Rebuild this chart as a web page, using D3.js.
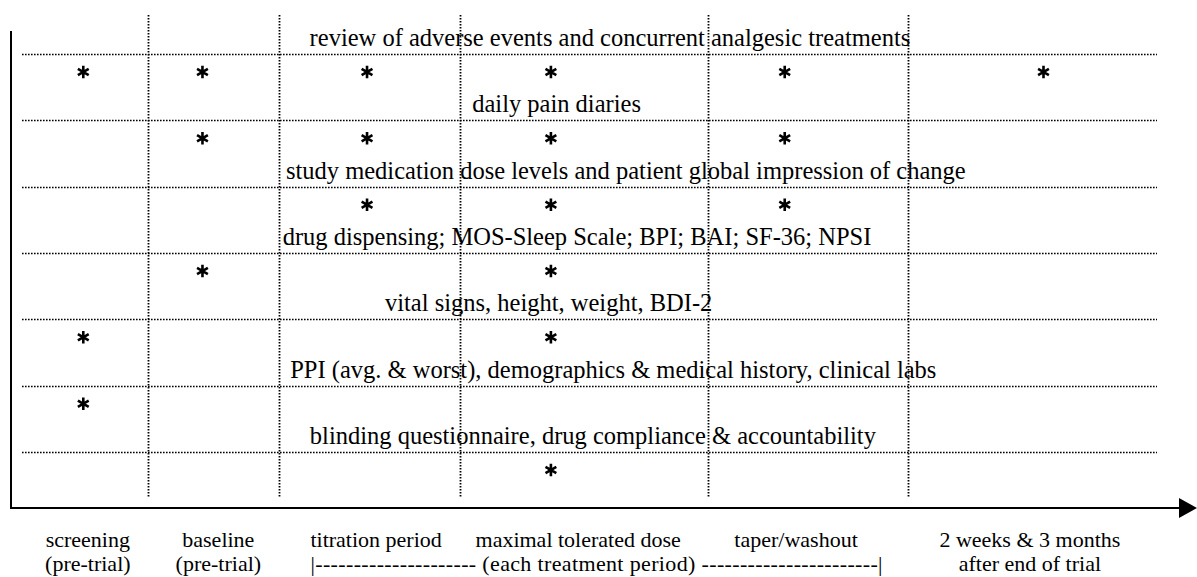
<!DOCTYPE html>
<html>
<head>
<meta charset="utf-8">
<script src="https://cdn.jsdelivr.net/npm/d3@7"></script>
<style>
  body { margin: 0; background: #fff; }
  svg text { font-family: 'Liberation Serif', 'Times New Roman', serif; fill: #000; }
</style>
</head>
<body>
<div id="chart"></div>
<script>
// assessments, top to bottom
const items = [
  'review of adverse events and concurrent analgesic treatments',
  'daily pain diaries',
  'study medication dose levels and patient global impression of change',
  'drug dispensing; MOS-Sleep Scale; BPI; BAI; SF-36; NPSI',
  'vital signs, height, weight, BDI-2',
  'PPI (avg. & worst), demographics & medical history, clinical labs',
  'blinding questionnaire, drug compliance & accountability'
]

// trial phases, left to right
const phases = ['screening', 'baseline', 'titration', 'maximal', 'taper', 'followup']
const phaseLabels = [
  ['screening', '(pre-trial)'],
  ['baseline', '(pre-trial)'],
  ['titration period', ''],
  ['maximal tolerated dose', ''],
  ['taper/washout', ''],
  ['2 weeks & 3 months', 'after end of trial']
]
const treatmentLabel = '|--------------------- (each treatment period) -----------------------|'

// which phases each assessment is done in (one list per item)
const schedule = [
  ['screening', 'baseline', 'titration', 'maximal', 'taper', 'followup'],
  ['baseline', 'titration', 'maximal', 'taper'],
  ['titration', 'maximal', 'taper'],
  ['baseline', 'maximal'],
  ['screening', 'maximal'],
  ['screening'],
  ['maximal']
]

// layout along the schedule axis (0-100)
const phaseEdges = [11.1, 22.6, 38.6, 60.4, 78.1]
const visitPos = [5.4, 15.9, 30.4, 46.6, 67.2, 90.0]
const phaseLabelPos = [5.8, 17.3, 31.2, 49.0, 68.2, 88.8]
const itemLabelPos = [51.8, 47.1, 53.2, 48.9, 46.4, 52.1, 50.3]

const W = 1197, H = 577
const axisX = 11, axisY = 508

const x = d3.scaleLinear().domain([0, 100]).range([22, 1157])
const y = d3.scalePoint().domain(d3.range(items.length)).range([54, 452])

const svg = d3.select('#chart').append('svg')
  .attr('width', W)
  .attr('height', H)

// phase separators
svg.append('g').selectAll('line')
  .data(phaseEdges)
  .enter().append('line')
    .attr('x1', d => Math.round(x(d)) + 0.5)
    .attr('x2', d => Math.round(x(d)) + 0.5)
    .attr('y1', 15)
    .attr('y2', 498)
    .attr('stroke', '#000')
    .attr('stroke-width', 1.8)
    .attr('stroke-dasharray', '1.6,1.4')

// row lines
svg.append('g').selectAll('line')
  .data(items)
  .enter().append('line')
    .attr('x1', x(0))
    .attr('x2', x(100))
    .attr('y1', (d, i) => Math.round(y(i)) + 0.5)
    .attr('y2', (d, i) => Math.round(y(i)) + 0.5)
    .attr('stroke', '#000')
    .attr('stroke-width', 1.5)
    .attr('stroke-dasharray', '1.6,1.4')

// item labels, sitting just above their line
svg.append('g').selectAll('text')
  .data(items)
  .enter().append('text')
    .attr('x', (d, i) => x(itemLabelPos[i]))
    .attr('y', (d, i) => y(i) - 8)
    .attr('text-anchor', 'middle')
    .attr('font-size', 24.5)
    .text(d => d)

// asterisks for each scheduled assessment
const marks = []
schedule.forEach((list, i) => list.forEach(p => marks.push({row: i, col: phases.indexOf(p)})))

svg.append('g').selectAll('path')
  .data(marks)
  .enter().append('path')
    .attr('transform', d => `translate(${x(visitPos[d.col])}, ${y(d.row) + 18})`)
    .attr('d', d3.symbol(d3.symbolAsterisk, 110))
    .attr('stroke', '#000')
    .attr('stroke-width', 2.6)
    .attr('fill', 'none')

// axes
svg.append('line')
  .attr('x1', axisX).attr('x2', axisX)
  .attr('y1', 31).attr('y2', axisY + 1)
  .attr('stroke', '#000').attr('stroke-width', 2)
svg.append('line')
  .attr('x1', axisX - 1).attr('x2', 1182)
  .attr('y1', axisY).attr('y2', axisY)
  .attr('stroke', '#000').attr('stroke-width', 2)
svg.append('path')
  .attr('d', `M1179,${axisY - 10}L1197,${axisY}L1179,${axisY + 10}Z`)
  .attr('fill', '#000')

// phase labels under the axis
const lab = svg.append('g').selectAll('text')
  .data(phaseLabels)
  .enter().append('text')
    .attr('text-anchor', 'middle')
    .attr('font-size', 22)
lab.append('tspan')
  .attr('x', (d, i) => x(phaseLabelPos[i]))
  .attr('y', 547)
  .text(d => d[0])
lab.append('tspan')
  .attr('x', (d, i) => x(phaseLabelPos[i]))
  .attr('y', 571)
  .text(d => d[1])

svg.append('text')
  .attr('x', x(phaseEdges[1]) + 32)
  .attr('y', 571)
  .attr('font-size', 22)
  .attr('textLength', 572)
  .attr('lengthAdjust', 'spacing')
  .text(treatmentLabel)
</script>
</body>
</html>
